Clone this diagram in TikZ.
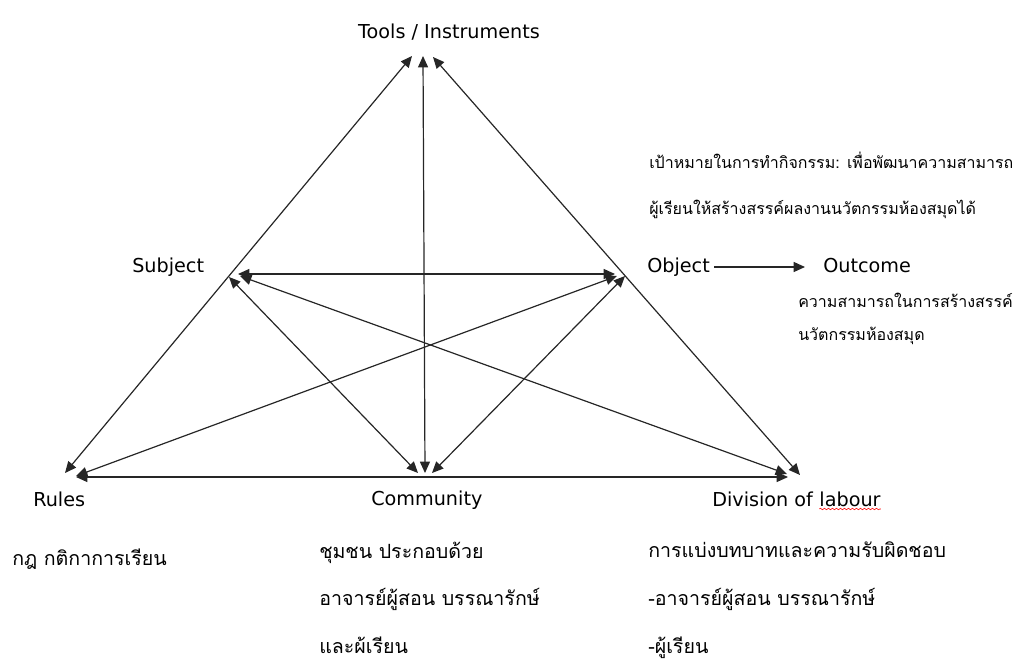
\documentclass[tikz,border=0pt]{standalone}
\usepackage{fontspec}
\setmainfont{DejaVu Sans}
\newfontfamily\thai[Script=Thai]{Loma}
\usetikzlibrary{arrows.meta,decorations.pathmorphing,calc}

\begin{document}
\begin{tikzpicture}[x=0.75pt,y=-0.75pt,
  tip/.tip={Triangle[length=8.5pt,width=7.5pt]},
  link/.style={line width=0.9pt,draw=black!85,tip-tip},
  oneway/.style={line width=0.9pt,draw=black!85,-tip},
  label/.style={inner sep=0pt,font=\fontsize{14.4}{17}\selectfont},
  note/.style={inner sep=0pt,font=\thai\fontsize{12}{15}\selectfont},
  bignote/.style={inner sep=0pt,font=\thai\fontsize{14.7}{18}\selectfont}]
\useasboundingbox (0,0) rectangle (1017,664);

% ---- arrow end points around each vertex ----
% apex (Tools / Instruments)
\coordinate (tL) at (412,56);
\coordinate (tM) at (423,56);
\coordinate (tR) at (433,57);
% Subject
\coordinate (sC) at (229,277);
\coordinate (sO) at (238,274);
\coordinate (sD) at (240,276);
% Object
\coordinate (oS) at (615,274);
\coordinate (oR) at (617,276);
\coordinate (oC) at (625,276);
% Rules
\coordinate (rT) at (65,473);
\coordinate (rO) at (76,476);
\coordinate (rD) at (76,477);
% Community
\coordinate (cS) at (418,473);
\coordinate (cT) at (425,473);
\coordinate (cO) at (432,473);
% Division of labour
\coordinate (dR) at (788,477);
\coordinate (dS) at (787,474);
\coordinate (dT) at (800,475);

% ---- connectors ----
\draw[link] (rT) -- (tL);
\draw[link] (tR) -- (dT);
\draw[link] (tM) -- (cT);
\draw[link] (rD) -- (dR);
\draw[link] (sO) -- (oS);
\draw[link] (sC) -- (cS);
\draw[link] (oC) -- (cO);
\draw[link] (sD) -- (dS);
\draw[link] (oR) -- (rO);

% ---- vertex labels ----
\node[label,anchor=base] (tools) at (449,38) {Tools / Instruments};
\node[label,anchor=base west] (subject) at (132,272) {Subject};
\node[label,anchor=base west] (object) at (647,272) {Object};
\node[label,anchor=base west] (outcome) at (823,272) {Outcome};
\node[label,anchor=base west] (rules) at (33,506) {Rules};
\node[label,anchor=base west] (community) at (371,505) {Community};
\node[label,anchor=base west] (division) at (712,506) {Division of};
\node[label,anchor=base west] (labour) at ($(division.base east)+(6,0)$) {labour};
\draw[oneway] (714,267) -- ($(outcome.west |- 0,267)+(-18,0)$);

% spell-check underline under "labour"
\draw[red,line width=0.4pt,decorate,decoration={snake,segment length=3pt,amplitude=0.6pt}]
  ($(labour.base west)+(0,3)$) -- ($(labour.base east)+(0,3)$);

% ---- Thai notes ----
\node[note,anchor=base west] (goal1) at (649,168) {เป้าหมายในการทำกิจกรรม: เพื่อพัฒนาความสามารถ};
\node[note,anchor=base west] (goal2) at (649,214) {ผู้เรียนให้สร้างสรรค์ผลงานนวัตกรรมห้องสมุดได้};
\node[note,anchor=base west] (out1) at (798,307) {ความสามารถในการสร้างสรรค์};
\node[note,anchor=base west] (out2) at (798,340) {นวัตกรรมห้องสมุด};
\node[bignote,anchor=base west] (rule1) at (12,565) {กฎ กติกาการเรียน};
\node[bignote,anchor=base west] (com1) at (319,558) {ชุมชน ประกอบด้วย};
\node[bignote,anchor=base west] (com2) at (319,605) {อาจารย์ผู้สอน บรรณารักษ์};
\node[bignote,anchor=base west] (com3) at (319,653) {และผ้เรียน};
\node[bignote,anchor=base west] (div1) at (648,557) {การแบ่งบทบาทและความรับผิดชอบ};
\node[bignote,anchor=base west] (div2) at (648,605) {-อาจารย์ผู้สอน บรรณารักษ์};
\node[bignote,anchor=base west] (div3) at (648,653) {-ผู้เรียน};
\end{tikzpicture}
\end{document}
